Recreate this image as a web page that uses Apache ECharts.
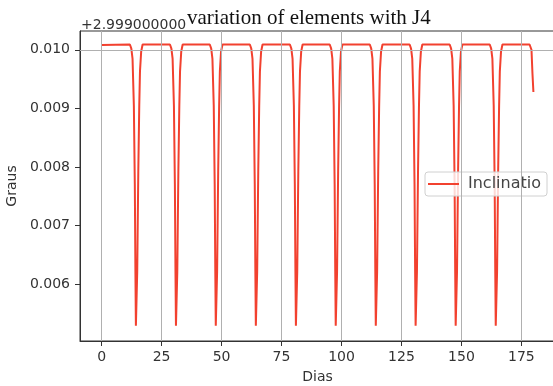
<!DOCTYPE html>
<html>
<head>
<meta charset="utf-8">
<script src="https://cdn.jsdelivr.net/npm/echarts@6/dist/echarts.min.js"></script>
<style>
html,body{margin:0;padding:0;background:#fff;}
#c{width:553px;height:386px;}
</style>
</head>
<body>
<div id="c"></div>
<script>
// x values (days)
var days = [
  0, 0.6,
  11.8, 12.4, 12.9, 13.45, 13.85, 14.1, 14.3, 14.85, 15.3, 15.7, 16.0, 16.5, 17.1,
  28.5, 29.1, 29.6, 30.15, 30.55, 30.8, 31.0, 31.55, 32.0, 32.4, 32.7, 33.2, 33.8,
  45.1, 45.7, 46.2, 46.75, 47.15, 47.4, 47.6, 48.15, 48.6, 49.0, 49.3, 49.8, 50.4,
  61.8, 62.4, 62.9, 63.45, 63.85, 64.1, 64.3, 64.85, 65.3, 65.7, 66.0, 66.5, 67.1,
  78.5, 79.1, 79.6, 80.15, 80.55, 80.8, 81.0, 81.55, 82.0, 82.4, 82.7, 83.2, 83.8,
  95.1, 95.7, 96.2, 96.75, 97.15, 97.4, 97.6, 98.15, 98.6, 99.0, 99.3, 99.8, 100.4,
  111.8, 112.4, 112.9, 113.45, 113.85, 114.1, 114.3, 114.85, 115.3, 115.7, 116.0, 116.5, 117.1,
  128.4, 129.0, 129.5, 130.05, 130.45, 130.7, 130.9, 131.45, 131.9, 132.3, 132.6, 133.1, 133.7,
  145.1, 145.7, 146.2, 146.75, 147.15, 147.4, 147.6, 148.15, 148.6, 149.0, 149.3, 149.8, 150.4,
  161.8, 162.4, 162.9, 163.45, 163.85, 164.1, 164.3, 164.85, 165.3, 165.7, 166.0, 166.5, 167.1,
  178.4, 179.2, 179.6, 180.0
];
// inclination minus offset 2.999 (degrees)
var inclination = [
  0.01008, 0.01009,
  0.01009, 0.01002, 0.00985, 0.00905, 0.00770, 0.00621, 0.00529, 0.00621, 0.00792, 0.00905, 0.00963, 0.00997, 0.01009,
  0.01009, 0.01002, 0.00985, 0.00905, 0.00770, 0.00621, 0.00529, 0.00621, 0.00792, 0.00905, 0.00963, 0.00997, 0.01009,
  0.01009, 0.01002, 0.00985, 0.00905, 0.00770, 0.00621, 0.00529, 0.00621, 0.00792, 0.00905, 0.00963, 0.00997, 0.01009,
  0.01009, 0.01002, 0.00985, 0.00905, 0.00770, 0.00621, 0.00529, 0.00621, 0.00792, 0.00905, 0.00963, 0.00997, 0.01009,
  0.01009, 0.01002, 0.00985, 0.00905, 0.00770, 0.00621, 0.00529, 0.00621, 0.00792, 0.00905, 0.00963, 0.00997, 0.01009,
  0.01009, 0.01002, 0.00985, 0.00905, 0.00770, 0.00621, 0.00529, 0.00621, 0.00792, 0.00905, 0.00963, 0.00997, 0.01009,
  0.01009, 0.01002, 0.00985, 0.00905, 0.00770, 0.00621, 0.00529, 0.00621, 0.00792, 0.00905, 0.00963, 0.00997, 0.01009,
  0.01009, 0.01002, 0.00985, 0.00905, 0.00770, 0.00621, 0.00529, 0.00621, 0.00792, 0.00905, 0.00963, 0.00997, 0.01009,
  0.01009, 0.01002, 0.00985, 0.00905, 0.00770, 0.00621, 0.00529, 0.00621, 0.00792, 0.00905, 0.00963, 0.00997, 0.01009,
  0.01009, 0.01002, 0.00985, 0.00905, 0.00770, 0.00621, 0.00529, 0.00621, 0.00792, 0.00905, 0.00963, 0.00997, 0.01009,
  0.01009, 0.01000, 0.00960, 0.00928
];
var xTicks = [0, 25, 50, 75, 100, 125, 150, 175];
var yTicks = [0.006, 0.007, 0.008, 0.009, 0.010];
var seriesName = 'Inclinatio';
var titleText = 'variation of elements with J4';
var offsetText = '+2.999000000';
var xName = 'Dias';
var yName = 'Graus';

var points = days.map(function (d, i) { return [d, inclination[i]]; });
var gridLines = xTicks.map(function (v) { return {xAxis: v}; })
  .concat(yTicks.map(function (v) { return {yAxis: v}; }));

var chart = echarts.init(document.getElementById('c'), null, {renderer: 'canvas'});
var sans = 'DejaVu Sans';
chart.setOption({
  animation: false,
  backgroundColor: '#fff',
  grid: {left: 80, right: -2, top: 31, bottom: 45, outerBoundsMode: 'none', containLabel: false,
    show: true, borderColor: '#333', borderWidth: 1, backgroundColor: 'transparent'},
  graphic: [
    {type: 'text', left: 81, top: 18, z: 10, style: {text: offsetText, font: '14px "DejaVu Sans"', fill: '#333'}},
    {type: 'text', left: 187, top: 8, z: 10, style: {text: titleText, font: '21px "Liberation Serif"', fill: '#111'}}
  ],
  legend: {
    left: 425, top: 172,
    padding: [4, 6, 4, 3],
    backgroundColor: 'rgba(255,255,255,0.8)',
    borderColor: '#d0d0d0', borderWidth: 1, borderRadius: 3,
    icon: 'rect', itemWidth: 31, itemHeight: 2,
    textStyle: {fontFamily: sans, fontSize: 16, color: '#444', padding: [0, 0, 0, 4]},
    data: [seriesName]
  },
  xAxis: {
    type: 'value', min: -9, max: 189,
    name: xName, nameLocation: 'middle', nameGap: 29,
    nameTextStyle: {fontFamily: sans, fontSize: 14, color: '#333'},
    axisLine: {show: true, onZero: false, lineStyle: {color: '#333'}},
    axisTick: {show: true, length: 5, customValues: xTicks, lineStyle: {color: '#333'}},
    axisLabel: {customValues: xTicks, margin: 9, fontFamily: sans, fontSize: 14, color: '#333'},
    splitLine: {show: false}
  },
  yAxis: {
    type: 'value', min: 0.00503, max: 0.01032,
    name: yName, nameLocation: 'middle', nameGap: 60, nameRotate: 90,
    nameTextStyle: {fontFamily: sans, fontSize: 14, color: '#333'},
    axisLine: {show: true, onZero: false, lineStyle: {color: '#333'}},
    axisTick: {show: true, length: 5, customValues: yTicks, lineStyle: {color: '#333'}},
    axisLabel: {customValues: yTicks, margin: 10, fontFamily: sans, fontSize: 14, color: '#333',
      formatter: function (v) { return v.toFixed(3); }},
    splitLine: {show: false}
  },
  series: [{
    name: 'grid', type: 'line', data: [], z: 1, silent: true,
    markLine: {
      silent: true, symbol: ['none', 'none'], animation: false,
      label: {show: false},
      lineStyle: {color: '#b0b0b0', width: 1, type: 'solid'},
      emphasis: {disabled: true},
      data: gridLines
    }
  }, {
    name: seriesName, type: 'line', data: points, z: 3,
    showSymbol: false, smooth: false,
    lineStyle: {color: '#f2412f', width: 2},
    itemStyle: {color: '#f2412f'}
  }]
});
</script>
</body>
</html>
